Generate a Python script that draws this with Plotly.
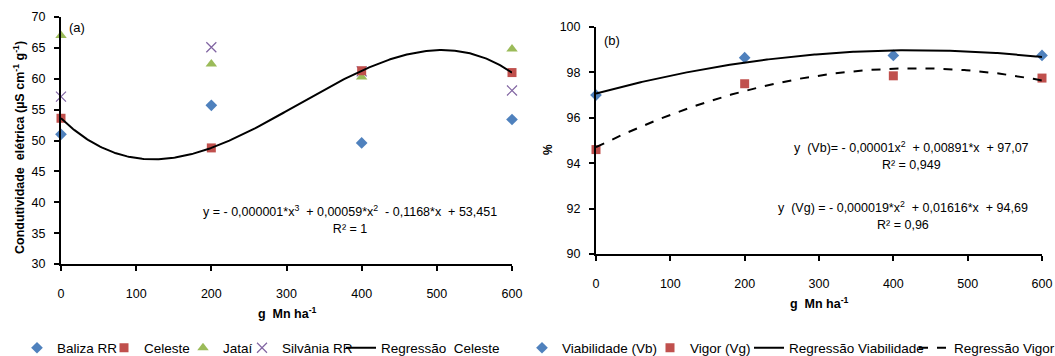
import numpy as np
import plotly.graph_objects as go

# ---------------- data ----------------
doses = [0, 200, 400, 600]

# panel (a): electrical conductivity
baliza = [51.0, 55.7, 49.6, 53.4]
celeste = [53.6, 48.8, 61.3, 61.0]
jatai = [67.0, 62.4, 60.3, 64.8]
silvania = [57.1, 65.1, 61.2, 58.1]

# panel (b): viability and vigor (%)
viabilidade = [97.0, 98.65, 98.75, 98.75]
vigor = [94.6, 97.5, 97.85, 97.75]

x_ticks = [0, 100, 200, 300, 400, 500, 600]
ya_ticks = [30, 35, 40, 45, 50, 55, 60, 65, 70]
yb_ticks = [90, 92, 94, 96, 98, 100]

# regression curves fitted from the plotted data
xf = np.linspace(0, 600, 301)
reg_celeste = np.polyval(np.polyfit(doses, celeste, 3), xf)
reg_vb = np.polyval(np.polyfit(doses, viabilidade, 2), xf)
reg_vg = np.polyval(np.polyfit(doses, vigor, 2), xf)

BLUE = "#4F81BD"
RED = "#C0504D"
GREEN = "#9BBB59"
PURPLE = "#8064A2"
FONT = "Liberation Sans"

W, H = 1055, 356


def px_x(p):
    return p / W


def px_y(p):
    return (H - p) / H


fig = go.Figure()

# ---- panel (a)
fig.add_trace(go.Scatter(x=doses, y=baliza, mode="markers", name="Baliza RR",
                         marker=dict(symbol="diamond", size=9, color=BLUE),
                         xaxis="x", yaxis="y", legend="legend", legendrank=1,
                         legendwidth=42, cliponaxis=False))
fig.add_trace(go.Scatter(x=doses, y=silvania, mode="markers", name="Silvânia RR",
                         marker=dict(symbol="x-thin-open", size=10, color=PURPLE,
                                     line=dict(width=1.2, color="#9A86BC")),
                         xaxis="x", yaxis="y", legend="legend", legendrank=4,
                         legendwidth=54, cliponaxis=False))
fig.add_trace(go.Scatter(x=doses, y=jatai, mode="markers", name="Jataí",
                         marker=dict(symbol="triangle-up", size=10, color=GREEN),
                         xaxis="x", yaxis="y", legend="legend", legendrank=3,
                         legendwidth=14, cliponaxis=False))
fig.add_trace(go.Scatter(x=doses, y=celeste, mode="markers", name="Celeste",
                         marker=dict(symbol="square", size=9, color=RED),
                         xaxis="x", yaxis="y", legend="legend", legendrank=2,
                         legendwidth=34, cliponaxis=False))
fig.add_trace(go.Scatter(x=xf, y=reg_celeste, mode="lines", name="Regressão  Celeste",
                         line=dict(color="black", width=2),
                         xaxis="x", yaxis="y", legend="legend", legendrank=5,
                         cliponaxis=False))

# ---- panel (b)
fig.add_trace(go.Scatter(x=doses, y=viabilidade, mode="markers", name="Viabilidade (Vb)",
                         marker=dict(symbol="diamond", size=9, color=BLUE),
                         xaxis="x2", yaxis="y2", legend="legend2", legendrank=1,
                         legendwidth=83, cliponaxis=False))
fig.add_trace(go.Scatter(x=doses, y=vigor, mode="markers", name="Vigor (Vg)",
                         marker=dict(symbol="square", size=9, color=RED),
                         xaxis="x2", yaxis="y2", legend="legend2", legendrank=2,
                         legendwidth=54, cliponaxis=False))
fig.add_trace(go.Scatter(x=xf, y=reg_vb, mode="lines", name="Regressão Viabilidade",
                         line=dict(color="black", width=2),
                         xaxis="x2", yaxis="y2", legend="legend2", legendrank=3,
                         legendwidth=120, cliponaxis=False))
fig.add_trace(go.Scatter(x=xf, y=reg_vg, mode="lines", name="Regressão Vigor",
                         line=dict(color="black", width=2, dash="dash"),
                         xaxis="x2", yaxis="y2", legend="legend2", legendrank=4,
                         cliponaxis=False))

axis_common = dict(showgrid=False, zeroline=False, showline=True, linecolor="black",
                   linewidth=2, ticks="outside", ticklen=5, tickwidth=1.5,
                   tickcolor="black", automargin=False,
                   tickfont=dict(family=FONT, size=12.5, color="black"))

legend_common = dict(orientation="h", xref="container", yref="container",
                     xanchor="left", yanchor="middle", y=px_y(348),
                     font=dict(family=FONT, size=13.5, color="black"), itemwidth=30,
                     bgcolor="rgba(0,0,0,0)", traceorder="normal",
                     borderwidth=0, itemclick=False)

fig.update_layout(
    width=W, height=H,
    margin=dict(l=0, r=0, t=0, b=0, autoexpand=False),
    paper_bgcolor="white", plot_bgcolor="white",
    font=dict(family=FONT, size=12, color="black"),
    hovermode=False,
    xaxis=dict(domain=[px_x(61), px_x(512)], range=[0, 600], tickvals=x_ticks,
               anchor="y", ticklabelstandoff=12, **axis_common),
    yaxis=dict(domain=[px_y(264), px_y(17)], range=[30, 70], tickvals=ya_ticks,
               anchor="x", ticklabelstandoff=6, **axis_common),
    xaxis2=dict(domain=[px_x(596), px_x(1042)], range=[0, 600], tickvals=x_ticks,
                anchor="y2", ticklabelstandoff=12, **axis_common),
    yaxis2=dict(domain=[px_y(254), px_y(27)], range=[90, 100], tickvals=yb_ticks,
                anchor="x2", ticklabelstandoff=6, **axis_common),
    legend=dict(x=px_x(17), **legend_common),
    legend2=dict(x=px_x(522), **legend_common),
)

ann = []


def add_text(text, x, y, size=12, bold=False, angle=0, align="center"):
    ann.append(dict(text=("<b>%s</b>" % text) if bold else text,
                    x=px_x(x), y=px_y(y), xref="paper", yref="paper",
                    xanchor="center", yanchor="middle",
                    showarrow=False, textangle=angle, align=align,
                    font=dict(family=FONT, size=size, color="black")))


add_text("(a)", 77, 28, size=13)
add_text("(b)", 612, 40, size=13)
add_text("Condutividade  elétrica (µS cm<sup>-1</sup> g<sup>-1</sup>)", 19, 148, size=12.5,
         bold=True, angle=-90)
add_text("%", 548, 150, size=12, bold=True, angle=-90)
add_text("g  Mn ha<sup>-1</sup>", 287, 313, size=12.5, bold=True)
add_text("g  Mn ha<sup>-1</sup>", 819, 303, size=12.5, bold=True)
add_text("y = - 0,000001*x<sup>3</sup>  + 0,00059*x<sup>2</sup>  - 0,1168*x  + 53,451<br>R² = 1",
         350, 220, size=12.5)
add_text("y  (Vb)= - 0,00001x<sup>2</sup>  + 0,00891*x  + 97,07<br>R² = 0,949", 911, 155, size=12.5)
add_text("y  (Vg) = - 0,000019*x<sup>2</sup>  + 0,01616*x  + 94,69<br>R² = 0,96", 903, 215, size=12.5)

fig.update_layout(annotations=ann)

fig.write_html("out.html", config={"displayModeBar": False, "staticPlot": False},
               post_script="document.body.style.margin='0';document.body.style.overflow='hidden';")
